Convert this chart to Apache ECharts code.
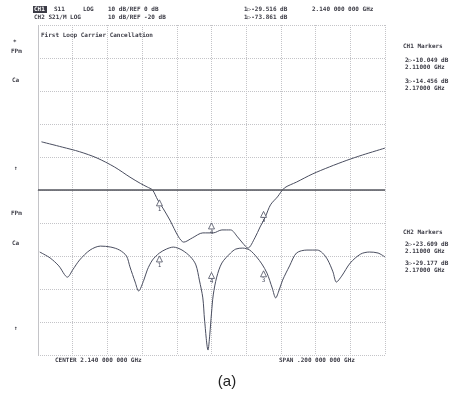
<!DOCTYPE html>
<html>
<head>
<meta charset="utf-8">
<script src="https://cdn.jsdelivr.net/npm/echarts@6/dist/echarts.min.js"></script>
<style>
  html, body { margin: 0; padding: 0; background: #fff; }
  #chart { width: 454px; height: 400px; }
</style>
</head>
<body>
<div id="chart"></div>
<script>
// frequency in MHz, level in dB
const ch1Freq = [2042, 2054, 2064, 2074, 2084, 2093, 2099, 2103, 2106, 2109, 2112, 2116, 2121, 2124,
  2129, 2135, 2141, 2146, 2151, 2155, 2158, 2161, 2165, 2168, 2171, 2174, 2178, 2182, 2189, 2198,
  2208, 2218, 2227, 2240];
const ch1Level = [14.6, 13.0, 11.6, 9.7, 7.0, 3.9, 2.0, 0.9, 0, -3.0, -5.5, -9.1, -14.2, -15.8,
  -14.5, -13.0, -13.0, -12.1, -12.1, -14.2, -16.1, -17.6, -14.5, -11.2, -8.2, -4.5, -2.1, 0.6, 2.4, 4.8,
  7.0, 9.0, 10.6, 12.7];

const ch2Freq = [2041, 2047, 2052, 2057, 2060, 2064, 2070, 2076, 2082, 2087, 2091, 2093, 2096, 2098,
  2101, 2103, 2106, 2110, 2114, 2118, 2123, 2128, 2131, 2133, 2135, 2136, 2138, 2139, 2140, 2141,
  2143, 2146, 2151, 2154, 2158, 2162, 2166, 2169, 2172, 2175, 2177, 2179, 2181, 2185, 2189, 2195,
  2201, 2204, 2207, 2210, 2212, 2215, 2220, 2226, 2231, 2236, 2240];
const ch2Level = [-38.8, -40.6, -43.0, -46.4, -44.2, -41.2, -38.2, -37.0, -37.3, -38.2, -40.0, -43.3, -47.9, -50.6,
  -47.3, -44.2, -41.2, -39.1, -37.9, -37.3, -38.2, -40.3, -42.7, -47.3, -52.7, -59.4, -68.5, -63.9, -57.3, -51.8,
  -46.4, -42.1, -39.1, -37.9, -37.6, -38.2, -40.3, -42.4, -45.2, -49.7, -52.7, -50.3, -47.3, -43.0, -39.1, -38.2,
  -38.2, -39.1, -41.2, -44.8, -47.9, -46.1, -42.1, -39.4, -38.8, -39.1, -40.3];

const markerNames = ['1', '4', '3'];
const markerFreq = [2110, 2140, 2170];
const ch1MarkerLevel = [-4.5, -11.5, -8.0];
const ch2MarkerLevel = [-41.5, -46.5, -46.0];

const chart = echarts.init(document.getElementById('chart'));
const ink = '#4a4e60';
const mono = 'DejaVu Sans Mono';

function pairs(xs, ys) {
  return xs.map((x, i) => [x, ys[i]]);
}

function markers(levels) {
  return {
    symbol: 'triangle',
    symbolSize: 6,
    symbolOffset: [0, -2],
    itemStyle: { color: '#fff', borderColor: ink, borderWidth: 0.8 },
    label: { show: true, position: 'bottom', distance: 0, fontSize: 6, fontFamily: mono, color: ink },
    data: markerFreq.map((f, i) => ({ name: markerNames[i], coord: [f, levels[i]], value: markerNames[i] }))
  };
}

function txt(x, y, s, size, extra) {
  return Object.assign({
    type: 'text', left: x, top: y,
    style: { text: s, fontSize: size || 6, fontFamily: mono, fill: '#3c3c46', fontWeight: 'bold' }
  }, extra || {});
}

const graphics = [
  { type: 'rect', shape: { x: 33, y: 6, width: 14, height: 7 }, style: { fill: '#3c3c46' } },
  txt(34, 6, 'CH1', 6, { style: { text: 'CH1', fontSize: 6, fontFamily: mono, fill: '#fff', fontWeight: 'bold' } }),
  txt(54, 6, 'S11     LOG'),
  txt(108, 6, '10 dB/REF 0 dB'),
  txt(244, 6, '1\u25B7-29.516 dB'),
  txt(312, 6, '2.140 000 000 GHz'),
  txt(34, 14, 'CH2 S21/M LOG'),
  txt(108, 14, '10 dB/REF -20 dB'),
  txt(244, 14, '1\u25B7-73.861 dB'),
  txt(41, 32, 'First Loop Carrier Cancellation'),
  txt(13, 39, '*'),
  txt(11, 48, 'FPm'),
  txt(12, 77, 'Ca'),
  txt(14, 165, '\u2191'),
  txt(11, 210, 'FPm'),
  txt(12, 240, 'Ca'),
  txt(14, 325, '\u2191'),
  txt(403, 43, 'CH1 Markers'),
  txt(405, 57, '2\u25B7-10.049 dB'),
  txt(405, 64, '2.11000 GHz'),
  txt(405, 78, '3\u25B7-14.456 dB'),
  txt(405, 85, '2.17000 GHz'),
  txt(403, 229, 'CH2 Markers'),
  txt(405, 241, '2\u25B7-23.609 dB'),
  txt(405, 248, '2.11000 GHz'),
  txt(405, 260, '3\u25B7-29.177 dB'),
  txt(405, 267, '2.17000 GHz'),
  txt(55, 357, 'CENTER 2.140 000 000 GHz'),
  txt(279, 357, 'SPAN .200 000 000 GHz'),
  {
    type: 'text', left: 'center', top: 374,
    style: { text: '(a)', fontSize: 15, fontFamily: 'Liberation Sans', fill: '#222' }
  }
];

const option = {
  backgroundColor: '#fff',
  animation: false,
  grid: { left: 38, right: 69, top: 25, bottom: 45 },
  xAxis: {
    type: 'value', min: 2040, max: 2240, interval: 20,
    axisLabel: { show: false }, axisTick: { show: false },
    axisLine: { lineStyle: { color: '#c4c4c8', type: 'dotted' } },
    splitLine: { lineStyle: { color: '#c4c4c8', type: 'dotted' } }
  },
  yAxis: [
    {
      type: 'value', min: -50, max: 50, interval: 10,
      axisLabel: { show: false }, axisTick: { show: false },
      axisLine: { lineStyle: { color: '#c4c4c8', type: 'dotted' } },
      splitLine: { lineStyle: { color: '#c4c4c8', type: 'dotted' } }
    },
    { type: 'value', min: -70, max: 30, show: false, splitLine: { show: false } }
  ],
  series: [
    {
      name: 'S11', type: 'line', yAxisIndex: 0, smooth: 0.3, showSymbol: false,
      data: pairs(ch1Freq, ch1Level),
      lineStyle: { color: ink, width: 1 },
      markLine: {
        silent: true, symbol: 'none', label: { show: false },
        lineStyle: { color: '#55565e', width: 1.5, type: 'solid' },
        data: [{ yAxis: 0 }]
      },
      markPoint: markers(ch1MarkerLevel)
    },
    {
      name: 'S21', type: 'line', yAxisIndex: 1, smooth: 0.3, showSymbol: false,
      data: pairs(ch2Freq, ch2Level),
      lineStyle: { color: ink, width: 1 },
      markPoint: markers(ch2MarkerLevel)
    }
  ],
  graphic: graphics
};

chart.setOption(option);
</script>
</body>
</html>
